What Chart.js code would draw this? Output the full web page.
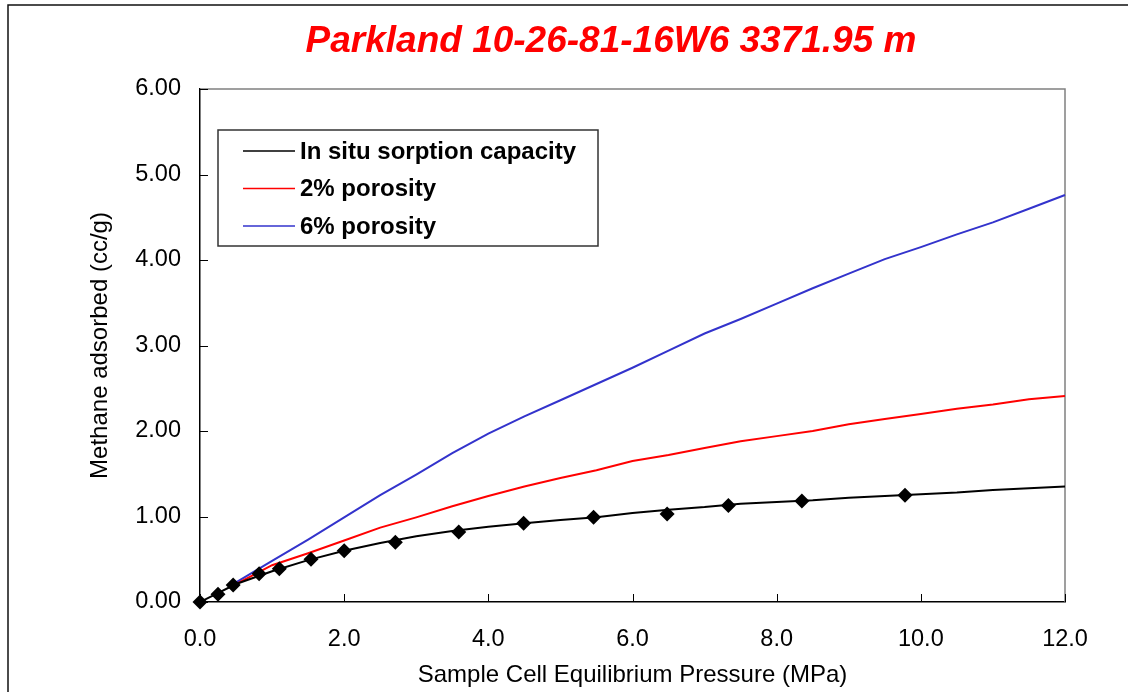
<!DOCTYPE html>
<html>
<head>
<meta charset="utf-8">
<title>Parkland 10-26-81-16W6 sorption isotherm</title>
<script src="https://cdn.jsdelivr.net/npm/chart.js@4.4.1/dist/chart.umd.min.js"></script>
<style>
  html, body { margin: 0; padding: 0; background: #fff; }
  #wrap { width: 1128px; height: 692px; position: relative; }
</style>
</head>
<body>
<div id="wrap"><canvas id="isotherm"></canvas></div>
<script>
const chartTitle = 'Parkland 10-26-81-16W6 3371.95 m';
const xAxisTitle = 'Sample Cell Equilibrium Pressure (MPa)';
const yAxisTitle = 'Methane adsorbed (cc/g)';

// pressure steps (MPa) used by the three curves
const pressure = [0, 0.5, 1, 1.5, 2, 2.5, 3, 3.5, 4, 4.5, 5, 5.5, 6, 6.5, 7, 7.5, 8, 8.5, 9, 9.5, 10, 10.5, 11, 11.5, 12, 12.1];
const inSitu    = [0, 0.21, 0.36, 0.49, 0.60, 0.69, 0.77, 0.83, 0.88, 0.92, 0.96, 0.99, 1.04, 1.08, 1.11, 1.15, 1.17, 1.19, 1.22, 1.24, 1.26, 1.28, 1.31, 1.33, 1.35, 1.36];
const porosity2 = [null, 0.21, 0.43, 0.57, 0.72, 0.87, 0.99, 1.12, 1.24, 1.35, 1.45, 1.54, 1.65, 1.72, 1.80, 1.88, 1.94, 2.00, 2.08, 2.14, 2.20, 2.26, 2.31, 2.37, 2.41, 2.42];
const porosity6 = [null, 0.23, 0.48, 0.73, 0.99, 1.25, 1.49, 1.74, 1.97, 2.17, 2.36, 2.55, 2.74, 2.94, 3.14, 3.31, 3.49, 3.67, 3.84, 4.01, 4.15, 4.30, 4.44, 4.60, 4.76, 4.79];

// measured isotherm points
const measuredP = [0, 0.25, 0.46, 0.82, 1.10, 1.54, 2.00, 2.71, 3.59, 4.49, 5.46, 6.48, 7.33, 8.35, 9.78];
const measuredV = [0, 0.09, 0.20, 0.33, 0.39, 0.50, 0.60, 0.70, 0.82, 0.92, 0.99, 1.03, 1.13, 1.18, 1.25];

const xTickValues = [0, 2, 4, 6, 8, 10, 12];
const yTickValues = [0, 1, 2, 3, 4, 5, 6];

const FONT = '"Liberation Sans", Arial, Helvetica, sans-serif';

function toPoints(xs, ys) {
    return xs.map((x, i) => ({ x, y: ys[i] })).filter(p => p.y !== null);
}

// page frame, plot frame, inward tick marks and the boxed legend
const framePlugin = {
    id: 'frame',
    beforeDraw(chart) {
        const { ctx, width, height } = chart;
        ctx.save();
        ctx.fillStyle = '#fff';
        ctx.fillRect(0, 0, width, height);
        ctx.strokeStyle = '#111';
        ctx.lineWidth = 1.5;
        ctx.beginPath();
        ctx.moveTo(8, height);
        ctx.lineTo(8, 5);
        ctx.lineTo(width, 5);
        ctx.stroke();

        ctx.fillStyle = '#ff0000';
        ctx.font = `italic bold 37px ${FONT}`;
        ctx.textAlign = 'center';
        ctx.textBaseline = 'alphabetic';
        ctx.fillText(chartTitle, 611, 52);
        ctx.restore();
    },
    beforeDatasetsDraw(chart) {
        const { ctx, chartArea: a, scales } = chart;
        ctx.save();
        ctx.strokeStyle = '#808080';
        ctx.lineWidth = 1.5;
        ctx.beginPath();
        ctx.moveTo(a.left, a.top);
        ctx.lineTo(a.right, a.top);
        ctx.lineTo(a.right, a.bottom);
        ctx.stroke();

        ctx.strokeStyle = '#000';
        ctx.lineWidth = 1;
        ctx.beginPath();
        scales.x.ticks.forEach(t => {
            const px = Math.round(scales.x.getPixelForValue(t.value)) + 0.5;
            ctx.moveTo(px, a.bottom);
            ctx.lineTo(px, a.bottom - 8);
        });
        scales.y.ticks.forEach(t => {
            const py = Math.round(scales.y.getPixelForValue(t.value)) + 0.5;
            ctx.moveTo(a.left, py);
            ctx.lineTo(a.left + 8, py);
        });
        ctx.stroke();
        ctx.restore();
    },
    afterDraw(chart) {
        const { ctx } = chart;
        const items = chart.data.datasets.filter(d => d.inLegend);
        const box = { x: 218, y: 130, w: 380, h: 116 };
        ctx.save();
        ctx.fillStyle = '#fff';
        ctx.fillRect(box.x, box.y, box.w, box.h);
        ctx.strokeStyle = '#333';
        ctx.lineWidth = 1.5;
        ctx.strokeRect(box.x, box.y, box.w, box.h);

        ctx.font = `bold 24px ${FONT}`;
        ctx.textAlign = 'left';
        ctx.textBaseline = 'middle';
        items.forEach((d, i) => {
            const y = 151 + i * 37.5;
            ctx.strokeStyle = d.borderColor;
            ctx.lineWidth = 1.5;
            ctx.beginPath();
            ctx.moveTo(243, y);
            ctx.lineTo(295, y);
            ctx.stroke();
            ctx.fillStyle = '#000';
            ctx.fillText(d.label, 300, y + 1);
        });
        ctx.restore();
    }
};

const lineClip = { left: 0, top: 0, right: 10, bottom: 0 };

new Chart(document.getElementById('isotherm'), {
    type: 'scatter',
    data: {
        datasets: [
            {
                label: 'Measured',
                data: toPoints(measuredP, measuredV),
                showLine: false,
                pointStyle: 'rectRot',
                pointRadius: 7.5,
                backgroundColor: '#000',
                borderColor: '#000',
                borderWidth: 0,
                clip: false,
                inLegend: false
            },
            {
                label: 'In situ sorption capacity',
                data: toPoints(pressure, inSitu),
                showLine: true,
                borderColor: '#000000',
                borderWidth: 2,
                pointRadius: 0,
                clip: lineClip,
                inLegend: true
            },
            {
                label: '2% porosity',
                data: toPoints(pressure, porosity2),
                showLine: true,
                borderColor: '#ff0000',
                borderWidth: 2,
                pointRadius: 0,
                clip: lineClip,
                inLegend: true
            },
            {
                label: '6% porosity',
                data: toPoints(pressure, porosity6),
                showLine: true,
                borderColor: '#3333cc',
                borderWidth: 2,
                pointRadius: 0,
                clip: lineClip,
                inLegend: true
            }
        ]
    },
    options: {
        responsive: true,
        maintainAspectRatio: false,
        animation: false,
        layout: { padding: { left: 0, top: 89, right: 63, bottom: 0 } },
        plugins: {
            legend: { display: false },
            title: { display: false },
            tooltip: { enabled: false }
        },
        scales: {
            x: {
                type: 'linear',
                min: 0,
                max: 12,
                afterBuildTicks: s => { s.ticks = xTickValues.map(v => ({ value: v })); },
                afterFit: s => { s.height = 90; },
                ticks: {
                    callback: v => v.toFixed(1),
                    color: '#000',
                    font: { family: FONT, size: 23.5 },
                    padding: 23,
                    maxRotation: 0,
                    autoSkip: false
                },
                grid: { display: false, drawTicks: false },
                border: { display: true, color: '#000', width: 1.5 },
                title: {
                    display: true,
                    text: xAxisTitle,
                    color: '#000',
                    font: { family: FONT, size: 24 },
                    padding: { top: 0, bottom: 2 }
                }
            },
            y: {
                type: 'linear',
                min: 0,
                max: 6,
                afterBuildTicks: s => { s.ticks = yTickValues.map(v => ({ value: v })); },
                afterFit: s => { s.width = 200; },
                ticks: {
                    callback: v => v.toFixed(2),
                    color: '#000',
                    font: { family: FONT, size: 23.5 },
                    padding: 19
                },
                grid: { display: false, drawTicks: false },
                border: { display: true, color: '#000', width: 1.5 },
                title: {
                    display: true,
                    text: yAxisTitle,
                    color: '#000',
                    font: { family: FONT, size: 24 },
                    padding: { top: 86, bottom: 0 }
                }
            }
        }
    },
    plugins: [framePlugin]
});
</script>
</body>
</html>
